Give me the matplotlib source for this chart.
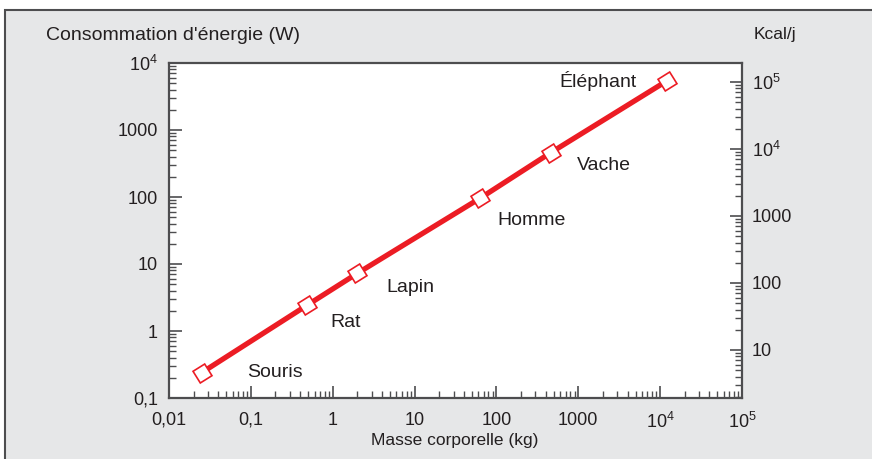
import matplotlib
matplotlib.use("Agg")
import matplotlib.pyplot as plt
import matplotlib.patches as mpatches
from matplotlib.ticker import LogLocator, FixedLocator, FixedFormatter, NullFormatter
import numpy as np

plt.rcParams['font.family'] = ['Liberation Sans', 'DejaVu Sans']
plt.rcParams['mathtext.fontset'] = 'custom'
plt.rcParams['mathtext.rm'] = 'Liberation Sans'
plt.rcParams['mathtext.it'] = 'Liberation Sans'

# data
animals = ["Souris", "Rat", "Lapin", "Homme", "Vache", "Éléphant"]
mass_kg = [0.0251, 0.49, 2.0, 63, 460, 12000]
power_w = [0.239, 2.44, 7.26, 95.7, 458, 5380]

x_ticks = [0.01, 0.1, 1, 10, 100, 1000, 1e4, 1e5]
x_ticklabels = ["0,01", "0,1", "1", "10", "100", "1000", "10$^4$", "10$^5$"]
yl_ticks = [0.1, 1, 10, 100, 1000, 1e4]
yl_ticklabels = ["0,1", "1", "10", "100", "1000", "10$^4$"]
yr_ticks = [10, 100, 1000, 1e4, 1e5]
yr_ticklabels = ["10", "100", "1000", "10$^4$", "10$^5$"]
kcal_per_w = 19.2

TXT = '#231f20'
RED = '#ec1c24'
SP = '#4d4d4f'
BG = '#e6e7e8'

W, H = 872, 459
fig = plt.figure(figsize=(W/100, H/100), dpi=100, facecolor='white')
fig.patches.append(mpatches.Rectangle((5/W, -0.1), 1.2, 1 - 10/H + 0.1, transform=fig.transFigure,
                                      facecolor=BG, edgecolor=SP, linewidth=1.5, zorder=-10))

ax = fig.add_axes([169/W, 1 - 398/H, (742-169)/W, (398-63)/H])
ax.set_facecolor('white')
ax.set_xscale('log')
ax.set_yscale('log')
ax.set_xlim(0.01, 1e5)
ax.set_ylim(0.1, 1e4)

for s in ax.spines.values():
    s.set_color(SP)
    s.set_linewidth(1.6)

ax.plot(mass_kg, power_w, color=RED, linewidth=3.8, solid_capstyle='round', zorder=3)
ax.plot(mass_kg, power_w, linestyle='none', marker=(4, 0, 77), markersize=14,
        markerfacecolor='white', markeredgecolor=RED, markeredgewidth=1.2, zorder=4)

offsets = [(45, 0, 'left'), (23, -17, 'left'), (29, -14, 'left'), (17, -22, 'left'),
           (26, -13, 'left'), (-30, 0, 'right')]
for name, mx, py, (dx, dy, ha) in zip(animals, mass_kg, power_w, offsets):
    ax.annotate(name, (mx, py), xytext=(dx, dy), textcoords='offset pixels',
                ha=ha, va='center', fontsize=14, color=TXT)

ax.xaxis.set_major_locator(FixedLocator(x_ticks))
ax.xaxis.set_major_formatter(FixedFormatter(x_ticklabels))
ax.xaxis.set_minor_locator(LogLocator(base=10, subs=np.arange(2, 10), numticks=20))
ax.xaxis.set_minor_formatter(NullFormatter())
ax.yaxis.set_major_locator(FixedLocator(yl_ticks))
ax.yaxis.set_major_formatter(FixedFormatter(yl_ticklabels))
ax.yaxis.set_minor_locator(LogLocator(base=10, subs=np.arange(2, 10), numticks=20))
ax.yaxis.set_minor_formatter(NullFormatter())

ax.tick_params(axis='both', which='major', direction='in', length=9, width=1.2, color=SP,
               labelsize=13, labelcolor=TXT)
ax.tick_params(axis='both', which='minor', direction='in', length=5, width=1.0, color=SP)
ax.tick_params(axis='x', which='major', pad=10)
ax.tick_params(axis='y', which='major', pad=8)
ax.tick_params(right=False, top=False, which='both')

ax2 = ax.twinx()
ax2.set_yscale('log')
ax2.set_ylim(0.1*kcal_per_w, 1e4*kcal_per_w)
ax2.yaxis.set_major_locator(FixedLocator(yr_ticks))
ax2.yaxis.set_major_formatter(FixedFormatter(yr_ticklabels))
ax2.yaxis.set_minor_locator(LogLocator(base=10, subs=np.arange(2, 10), numticks=20))
ax2.yaxis.set_minor_formatter(NullFormatter())
ax2.tick_params(axis='y', which='major', direction='in', length=9, width=1.2, color=SP,
                labelsize=13, labelcolor=TXT, pad=7)
ax2.tick_params(axis='y', which='minor', direction='in', length=5, width=1.0, color=SP)
for s in ax2.spines.values():
    s.set_visible(False)

fig.text(46/W, 1 - 35/H, "Consommation d'énergie (W)", ha='left', va='center',
         fontsize=14, color=TXT)
fig.text(754/W, 1 - 35/H, "Kcal/j", ha='left', va='center', fontsize=12.5, color=TXT)
fig.text(455/W, 1 - 441/H, "Masse corporelle (kg)", ha='center', va='center',
         fontsize=12.5, color=TXT)

fig.savefig("out.png", dpi=100, facecolor='white')
